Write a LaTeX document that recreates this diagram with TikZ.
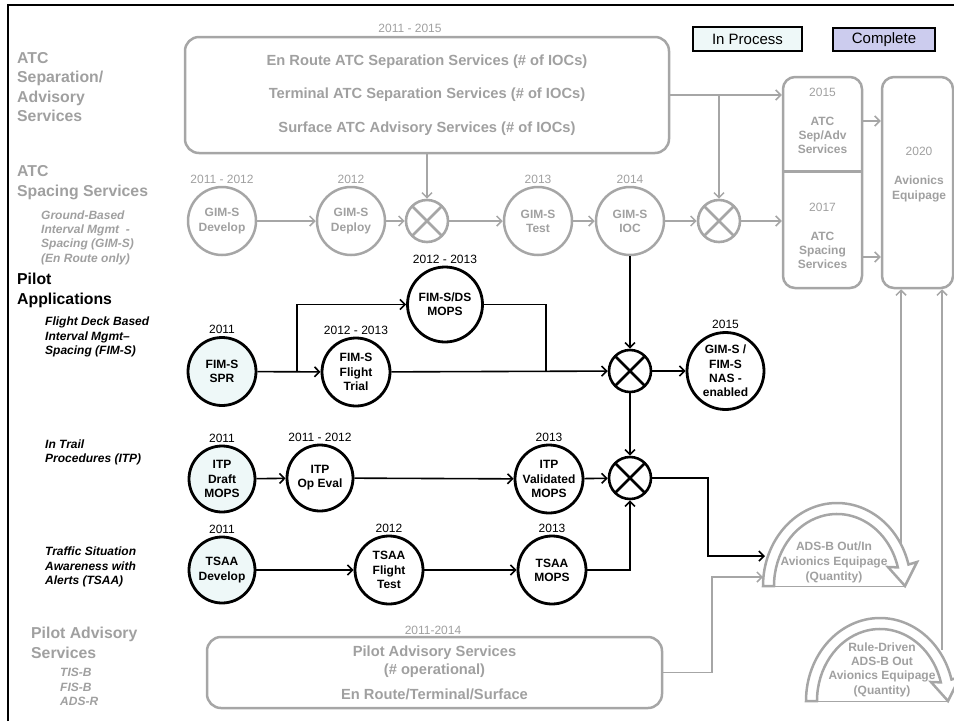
\documentclass[tikz,border=0pt]{standalone}
\usepackage{fontspec}
\setmainfont{Liberation Sans}
\usetikzlibrary{arrows.meta}

\definecolor{gcol}{RGB}{166,166,166}
\definecolor{gtxt}{RGB}{160,160,160}
\definecolor{inproc}{RGB}{238,248,248}
\definecolor{cmplt}{RGB}{204,204,238}

\tikzset{
    gline/.style={draw=gcol, line width=1.5pt},
    garr/.style={gline, -{Straight Barb[length=5pt,width=10pt]}},
    barr/.style={draw=black, line width=1.6pt, -{Straight Barb[length=5pt,width=10pt]}},
    ctxt/.style={font=\bfseries\fontsize{12}{14.2}\selectfont, align=center, inner sep=0pt},
    gcirc/.style={circle, draw=gcol, line width=2.5pt, minimum size=68pt, text=gtxt, ctxt},
    bcirc/.style={circle, draw=black, line width=2.8pt, minimum size=68pt, fill=white, ctxt},
    xing/.style={circle, draw=#1, line width=2.6pt, minimum size=42pt, inner sep=0pt,
        path picture={\draw[#1, line width=2.6pt] (path picture bounding box.north east) -- (path picture bounding box.south west)
            (path picture bounding box.north west) -- (path picture bounding box.south east);}},
    xing/.default=black,
    gbox/.style={draw=gcol, line width=2.5pt, rounded corners=14pt, inner sep=0pt, text=gtxt},
    yr/.style={font=\fontsize{12}{14}\selectfont, inner sep=0pt, anchor=south},
    head/.style={font=\bfseries\fontsize{15.8}{19.4}\selectfont, align=left, anchor=west, inner sep=0pt},
    subhead/.style={font=\bfseries\itshape\fontsize{12}{14.3}\selectfont, align=left, anchor=west, inner sep=0pt},
    legend/.style={draw=black, line width=2pt, font=\fontsize{15}{17}\selectfont, inner sep=0pt},
    arcarrow/.pic={
        \draw[gcol, line width=2.5pt] (-74,0) arc[start angle=180, end angle=345, x radius=74, y radius=83]
            -- (80,-24) -- (68,0) -- (51,-19) -- (345:63 and 72)
            arc[start angle=345, end angle=180, x radius=63, y radius=72] -- cycle;
        \draw[gcol, line width=1pt] (-74,0) -- (68,0);
    }
}

\begin{document}
\begin{tikzpicture}[x=1pt, y=-1pt]
    \useasboundingbox (0,0) rectangle (954,721);
    \draw[line width=2.5pt] (8,721) -- (8,5) -- (954,5);

    \node[legend, fill=inproc, minimum width=109pt, minimum height=24pt] (lgproc) at (747.5,39) {In Process};
    \node[legend, fill=cmplt, minimum width=102pt, minimum height=23pt] (lgdone) at (884,39.5) {Complete};

    \node[head, text=gtxt] (hsep) at (17,87) {ATC\\Separation/\\Advisory\\Services};
    \node[head, text=gtxt] (hspc) at (17,182.5) {ATC\\Spacing Services};
    \node[subhead, text=gtxt] (hgim) at (41,237.5) {Ground-Based\\Interval Mgmt \ -\\Spacing (GIM-S)\\(En Route only)};
    \node[head] (hpil) at (17,290.5) {Pilot\\Applications};
    \node[subhead] (hfim) at (45,337) {Flight Deck Based\\Interval Mgmt–\\Spacing (FIM-S)};
    \node[subhead] (hitp) at (45,452.5) {In Trail\\Procedures (ITP)};
    \node[subhead] (htsaa) at (45,567) {Traffic Situation\\Awareness with\\Alerts (TSAA)};
    \node[head, text=gtxt] (hpas) at (31,643) {Pilot Advisory\\Services};
    \node[subhead, text=gtxt] (hpasl) at (60,687) {TIS-B\\FIS-B\\ADS-R};

    \node[gbox, minimum width=484pt, minimum height=116pt, align=center, font=\bfseries\fontsize{14.7}{33.5}\selectfont] (atcbox) at (427,95)
        {En Route ATC Separation Services (\# of IOCs)\\Terminal ATC Separation Services (\# of IOCs)\\Surface ATC Advisory Services (\# of IOCs)};
    \node[yr, text=gtxt, anchor=center] (yatc) at (410,28) {2011 - 2015};

    \node[gbox, rounded corners=12pt, minimum width=79pt, minimum height=211pt] (rbox) at (822.5,182.5) {};
    \draw[gcol, line width=3pt] (rbox.west |- 0,171) -- (rbox.east |- 0,171);
    \node[ctxt, text=gtxt] (sept) at (822.5,121) {{\mdseries 2015}\\[15pt]ATC\\Sep/Adv\\Services};
    \node[ctxt, text=gtxt] (spct) at (822.5,236) {{\mdseries 2017}\\[15pt]ATC\\Spacing\\Services};
    \node[gbox, rounded corners=12pt, minimum width=71pt, minimum height=211pt] (avio) at (917.5,182.5) {};
    \node[ctxt, text=gtxt] (aviot) at (919,174.5) {{\mdseries 2020}\\[15pt]Avionics\\Equipage};

    \foreach \n/\x/\t in {gdev/222/{GIM-S\\Develop}, gdep/351/{GIM-S\\Deploy}, gtest/538/{GIM-S\\Test}, gioc/630/{GIM-S\\IOC}} {
        \node[gcirc] (\n) at (\x,221) {\t};
    }
    \node[xing=gcol] (gx1) at (427,221) {};
    \node[xing=gcol] (gx2) at (719,221) {};

    \node[bcirc, fill=inproc] (fimspr) at (222,371.5) {FIM-S\\SPR};
    \node[bcirc, minimum size=75pt] (fimds) at (445,304.5) {FIM-S/DS\\MOPS};
    \node[bcirc] (fimft) at (356,372) {FIM-S\\Flight\\Trial};
    \node[xing] (xfim) at (630,371) {};
    \node[bcirc, minimum size=77pt] (nas) at (725.5,371) {GIM-S /\\FIM-S\\NAS -\\enabled};
    \node[bcirc, fill=inproc, minimum size=66pt] (itpdraft) at (222,479) {ITP\\Draft\\MOPS};
    \node[bcirc, minimum size=66pt] (itpop) at (320,478) {ITP\\Op Eval};
    \node[bcirc] (itpval) at (549,479) {ITP\\Validated\\MOPS};
    \node[xing] (xitp) at (630,478) {};
    \node[bcirc, fill=inproc, minimum size=66pt] (tsaadev) at (222,570) {TSAA\\Develop};
    \node[bcirc] (tsaaft) at (389,570) {TSAA\\Flight\\Test};
    \node[bcirc] (tsaamops) at (552,570) {TSAA\\MOPS};

    \foreach \n/\y in {gdev/{2011 - 2012}, gdep/2012, gtest/2013, gioc/2014} {
        \node[yr, text=gtxt] (y\n) at ([yshift=2pt]\n.north) {\y};
    }
    \foreach \n/\y in {fimspr/2011, fimds/{2012 - 2013}, fimft/{2012 - 2013}, nas/2015, itpdraft/2011, itpop/{2011 - 2012}, itpval/2013, tsaadev/2011, tsaaft/2012, tsaamops/2013} {
        \node[yr] (y\n) at ([yshift=2pt]\n.north) {\y};
    }

    \node[gbox, minimum width=455pt, minimum height=71pt, align=center, font=\bfseries\fontsize{14.7}{18}\selectfont] (pasbox) at (434.5,672.5)
        {Pilot Advisory Services\\(\# operational)\\[7pt]En Route/Terminal/Surface};
    \node[yr, text=gtxt, anchor=center] (ypas) at (433,630) {2011-2014};

    \pic (adsb) at (837,586) {arcarrow};
    \pic (rule) at (880,701) {arcarrow};
    \node[ctxt, text=gtxt, font=\bfseries\fontsize{12}{15}\selectfont] (adsbt) at (834,562) {ADS-B Out/In\\Avionics Equipage\\(Quantity)};
    \node[ctxt, text=gtxt, font=\bfseries\fontsize{12}{14.3}\selectfont] (rulet) at (882,669.5) {Rule-Driven\\ADS-B Out\\Avionics Equipage\\(Quantity)};

    \draw[garr] (gdev) -- (gdep);
    \draw[garr] (gdep) -- (gx1);
    \draw[garr] (gx1) -- (gtest);
    \draw[garr] (gtest) -- (gioc);
    \draw[garr] (gioc) -- (gx2);
    \draw[garr] (gx2) -- (gx2 -| rbox.west);
    \draw[garr] (atcbox) -- (gx1);
    \draw[garr] (atcbox.east) -- (atcbox.east -| rbox.west);
    \coordinate (tbsplit) at (gx2 |- atcbox.east);
    \draw[garr] (tbsplit) -- (gx2);
    \draw[garr] (sept -| rbox.east) -- (sept -| avio.west);
    \coordinate (spout) at (rbox.east |- 0,257);
    \draw[garr] (spout) -- (spout -| avio.west);
    \coordinate (adsbtop) at (901,544);
    \coordinate (ruletop) at (942,650);
    \draw[garr] (adsbtop) -- (adsbtop |- avio.south);
    \draw[garr] (ruletop) -- (ruletop |- avio.south);
    \coordinate (pasbend) at (712,620);
    \coordinate (adsblow) at (763,577);
    \draw[garr] (pasbox.east) -| (pasbend) |- (adsblow);

    \draw[barr] (fimspr) -- (fimft);
    \coordinate (fimsplit) at (297,371.5);
    \draw[barr] (fimsplit) |- (fimds);
    \coordinate (fimjoin) at (546,372);
    \draw[barr, -] (fimds) -| (fimjoin);
    \draw[barr] (fimft) -- (xfim);
    \draw[barr] (gioc) -- (xfim);
    \draw[barr] (xfim) -- (xitp);
    \draw[barr] (xfim) -- (nas);
    \draw[barr] (itpdraft) -- (itpop);
    \draw[barr] (itpop) -- (itpval);
    \draw[barr] (itpval) -- (xitp);
    \coordinate (itpbend) at (708,520);
    \coordinate (adsbup) at (765,556);
    \draw[barr] (xitp) -| (itpbend) |- (adsbup);
    \draw[barr] (tsaadev) -- (tsaaft);
    \draw[barr] (tsaaft) -- (tsaamops);
    \draw[barr] (tsaamops) -| (xitp);
\end{tikzpicture}
\end{document}
